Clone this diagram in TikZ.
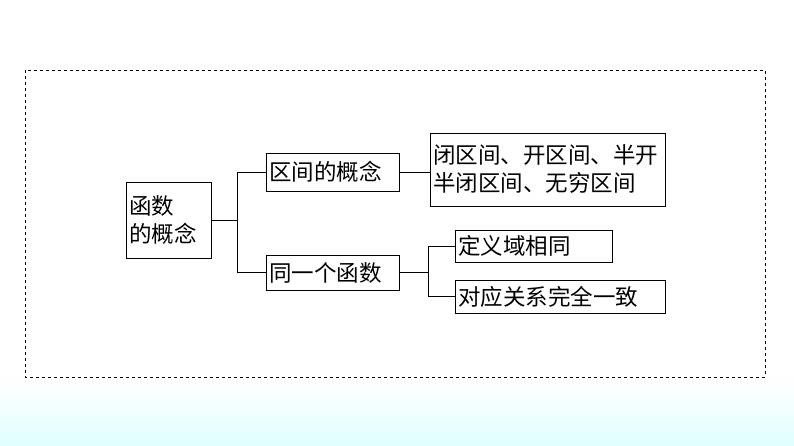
\documentclass[tikz,border=0pt]{standalone}
\usepackage{fontspec}
\newfontfamily\cjk{Noto Sans CJK SC}
\begin{document}
\begin{tikzpicture}[x=1pt,y=-1pt,
  box/.style={draw,line width=0.9pt,inner xsep=3pt,inner ysep=4pt,anchor=west,align=left,font=\cjk\fontsize{22.5}{28}\selectfont},
  ln/.style={line width=0.7pt}]
\useasboundingbox (0,0) rectangle (794,446);
\shade[top color=white,bottom color=cyan!12] (0,378) rectangle (794,446);
\draw[dashed,line width=0.8pt] (25,70) rectangle (765,377);
\node[box,minimum height=76,text width=79] (a) at (126,220) {函数\\的概念};
\node[box,minimum height=38,text width=127] (b) at (266,172) {区间的概念};
\node[box,minimum height=73,text width=229] (c) at (430,169.5) {闭区间、开区间、半开\\半闭区间、无穷区间};
\node[box,minimum height=35,text width=127] (d) at (266,272.5) {同一个函数};
\node[box,minimum height=32,text width=151] (e) at (455,246) {定义域相同};
\node[box,minimum height=33,text width=204] (f) at (455,296.5) {对应关系完全一致};
\coordinate (j1) at (237,220);
\draw[ln] (a.east) -- (j1);
\draw[ln] (b.west) -- (b.west -| j1) -- (d.west -| j1) -- (d.west);
\draw[ln] (b.east) -- (c.west |- b.east);
\coordinate (j2) at (428,272.5);
\draw[ln] (d.east) -- (j2);
\draw[ln] (e.west) -- (e.west -| j2) -- (f.west -| j2) -- (f.west);
\end{tikzpicture}
\end{document}
